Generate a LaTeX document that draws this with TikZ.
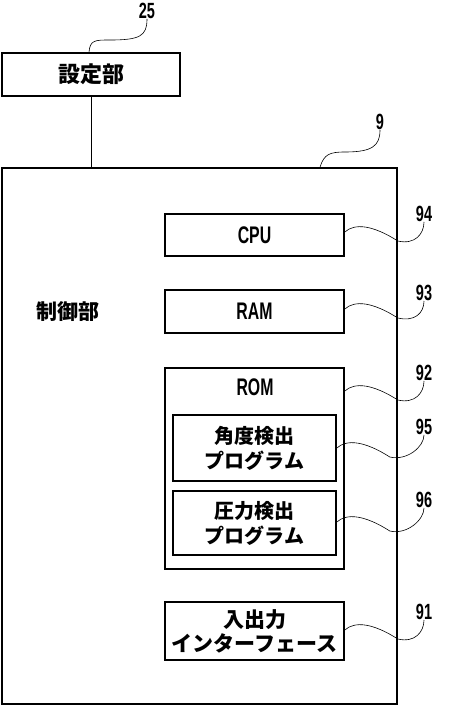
\documentclass[tikz,border=0pt]{standalone}
\usepackage{fontspec}
\usetikzlibrary{calc}
\newfontfamily\jp{Noto Sans CJK JP}
\newfontfamily\lat[FakeStretch=0.66]{Liberation Sans}
\begin{document}
\begin{tikzpicture}[x=1pt,y=-1pt,
  box/.style={draw,line width=1.6pt,inner sep=0pt,align=center},
  lead/.style={line width=0.6pt},
  num/.style={font=\lat\bfseries\fontsize{22}{22}\selectfont,inner sep=0pt},
  jtxt/.style={font=\jp\bfseries\fontsize{20}{25}\selectfont},
  ltxt/.style={font=\lat\bfseries\fontsize{24}{24}\selectfont}]
\useasboundingbox (0,0) rectangle (448,707);
% settings box
\node[box,minimum width=178pt,minimum height=43pt,jtxt,font=\jp\bfseries\fontsize{22}{25}\selectfont] (set) at (91,74.5) {設定部};
\node[num] (n25) at (147,11) {25};
% main box
\node[box,minimum width=395pt,minimum height=536pt] (main) at (199.5,436) {};
\node[jtxt,font=\jp\bfseries\fontsize{21}{25}\selectfont] (ctrl) at (68,312) {制御部};
\node[num] (n9) at (380,122) {9};
\draw[line width=1pt] (set.south) -- (set.south |- main.north);
% inner boxes
\node[box,minimum width=179pt,minimum height=42pt,ltxt] (cpu) at (254.5,235) {CPU};
\node[box,minimum width=179pt,minimum height=43pt,ltxt] (ram) at (254.5,311.5) {RAM};
\node[box,minimum width=179pt,minimum height=201pt] (rom) at (254.5,468.5) {};
\node[ltxt] (romt) at (255,387) {ROM};
\node[box,minimum width=163pt,minimum height=66pt,jtxt] (ang) at (254.5,448) {角度検出\\プログラム};
\node[box,minimum width=163pt,minimum height=64pt,jtxt] (prs) at (254.5,523) {圧力検出\\プログラム};
\node[box,minimum width=179pt,minimum height=58pt,jtxt,font=\jp\bfseries\fontsize{21}{24}\selectfont] (io) at (254.5,631) {入出力\\インターフェース};
% labels
\node[num] (n94) at (424,214) {94};
\node[num] (n93) at (424,293) {93};
\node[num] (n92) at (424,373) {92};
\node[num] (n95) at (424,427) {95};
\node[num] (n96) at (424,500) {96};
\node[num] (n91) at (424,612) {91};
% leaders
\draw[lead] (set.north -| 89,0) .. controls (90,40) and (95,40) .. (110,40) .. controls (140,40) and (147,36) .. (n25.south);
\draw[lead] (main.north -| 320,0) .. controls (324,154) and (330,152) .. (345,152) .. controls (372,152) and (380,146) .. (n9.south);
\foreach \b/\n/\y in {cpu/n94/232, ram/n93/309, rom/n92/391, ang/n95/448, prs/n96/522, io/n91/630}{
  \draw[lead] (\b.east |- 0,\y) .. controls ($(\b.east |- 0,\y)+(10,-9)$) and ($(\b.east |- 0,\y)+(28,-7)$) .. ($(\b.east |- 0,\y)+(53,9)$)
     .. controls ($(\b.east |- 0,\y)+(70,13)$) and ($(\n.south)+(0,12)$) .. (\n.south);
}
\end{tikzpicture}
\end{document}
